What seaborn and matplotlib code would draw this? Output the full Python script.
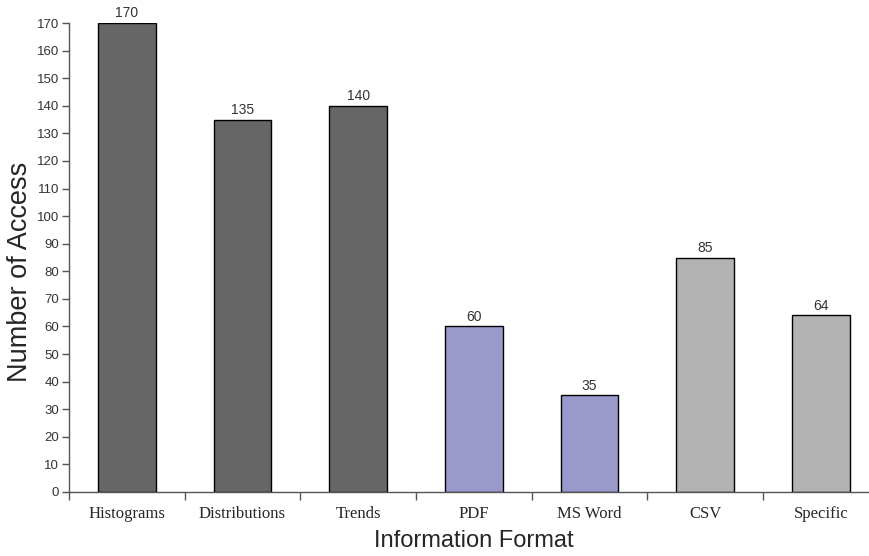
import matplotlib
matplotlib.use("Agg")
import matplotlib.pyplot as plt
import seaborn as sns
import pandas as pd
import numpy as np

categories = ["Histograms", "Distributions", "Trends", "PDF", "MS Word", "CSV", "Specific"]
values = [170, 135, 140, 60, 35, 85, 64]
groups = ["g1", "g1", "g1", "g2", "g2", "g3", "g3"]
palette = {"g1": "#666666", "g2": "#9999CC", "g3": "#B3B3B3"}

df = pd.DataFrame({"cat": categories, "val": values, "grp": groups})

sns.set_style("white")
plt.rcParams['font.family'] = ['Liberation Sans', 'DejaVu Sans']

fig = plt.figure(figsize=(8.7, 5.56), dpi=100)
axw = 1 - 69/870 + 0.01
ax = fig.add_axes([69/870, 64/556, axw, (492-23)/556])

sns.barplot(data=df, x="cat", y="val", hue="grp", palette=palette, dodge=False,
            width=0.5, edgecolor="black", linewidth=1, legend=False, ax=ax, saturation=1)

for i, v in enumerate(values):
    ax.text(i, v + 1, str(v), ha="center", va="bottom", fontsize=10, color="#333333")

ax.set_ylim(0, 170)
ax.set_xlim(-0.5, 6.5)
ax.set_yticks(np.arange(0, 171, 10))
ax.tick_params(axis="y", labelsize=9.5, labelcolor="#333333", length=5, width=1, color="#555555", left=True, direction="out", pad=2)
ax.set_xticks(range(len(categories)))
ax.set_xticklabels(categories, family=["Liberation Serif", "DejaVu Serif"], fontsize=12, va="baseline")
ax.tick_params(axis="x", length=0, pad=19)
ax.set_xticks(np.arange(-0.5, 7, 1), minor=True)
ax.tick_params(axis="x", which="minor", length=6, width=1, color="#555555", bottom=True, direction="out")

for s in ["top", "right"]:
    ax.spines[s].set_visible(False)
for s in ["left", "bottom"]:
    ax.spines[s].set_color("#555555")
    ax.spines[s].set_linewidth(1)

ax.set_xlabel("Information Format", fontsize=17)
ax.xaxis.set_label_coords((474 - 69) / (870 * axw), -(541 - 492) / 469)
ax.xaxis.label.set_va("center")
ax.set_ylabel("Number of Access", fontsize=19.5)
ax.yaxis.set_label_coords(-(69 - 20) / (870 * axw), (492 - 272) / 469)
ax.yaxis.label.set_va("center")

fig.savefig("out.png", dpi=100)
